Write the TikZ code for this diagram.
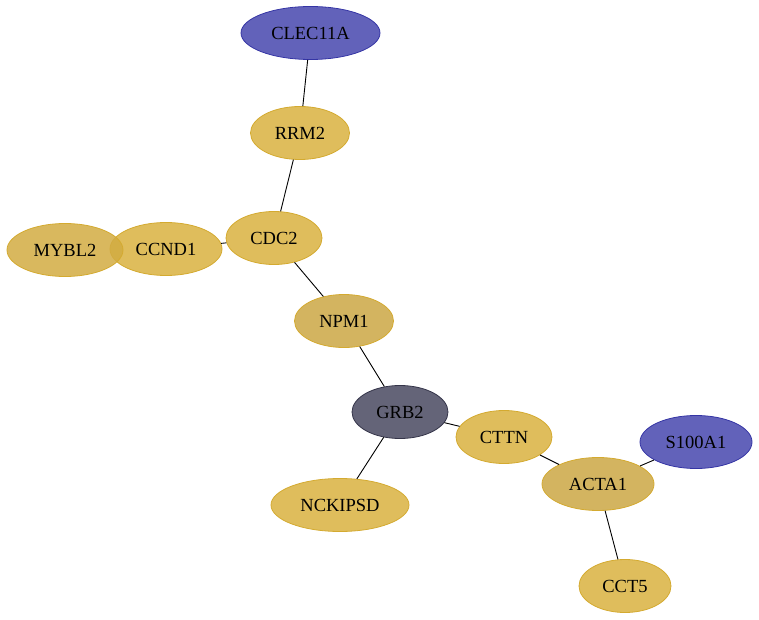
\documentclass[tikz,border=0pt]{standalone}
\usepackage{fontspec}
\setmainfont{Liberation Serif}
\usetikzlibrary{shapes.geometric}
\definecolor{yfill}{HTML}{D9B240}
\definecolor{ydark}{HTML}{D2AC42}
\definecolor{ymid}{HTML}{CBA744}
\definecolor{yline}{HTML}{D4AA30}
\definecolor{bfill}{HTML}{4747AE}
\definecolor{bline}{HTML}{3535A5}
\definecolor{gfill}{HTML}{494960}
\definecolor{gline}{HTML}{35354A}
\tikzset{
  gene/.style={ellipse, inner sep=0pt, minimum height=53pt, font=\fontsize{18.5}{21}\selectfont, line width=0.8pt, fill opacity=0.85, text opacity=1},
  ygene/.style={gene, draw=yline, fill=yfill},
  bgene/.style={gene, draw=bline, fill=bfill},
  ggene/.style={gene, draw=gline, fill=gfill},
  link/.style={draw=black, line width=0.9pt}
}
\begin{document}
\begin{tikzpicture}[x=1pt,y=-1pt]
\useasboundingbox (0,0) rectangle (759,620);
\node[bgene, minimum width=139pt] (clec) at (310.5,33) {CLEC11A};
\node[ygene, minimum width=99pt] (rrm2) at (300,133) {RRM2};
\node[ygene, minimum width=96pt] (cdc2) at (274,238) {CDC2};
\node[ygene, minimum width=112pt] (ccnd1) at (166,249) {CCND1};
\node[ygene, fill=ydark, minimum width=116pt] (mybl2) at (65,250) {MYBL2};
\node[ygene, fill=ymid, minimum width=99pt] (npm1) at (344,321) {NPM1};
\node[ggene, minimum width=96pt] (grb2) at (400,412) {GRB2};
\node[ygene, minimum width=96pt] (cttn) at (504,437) {CTTN};
\node[ygene, minimum width=138pt] (nck) at (340,505) {NCKIPSD};
\node[ygene, fill=ymid, minimum width=112pt] (acta1) at (598,484) {ACTA1};
\node[bgene, minimum width=112pt] (s100) at (696,442) {S100A1};
\node[ygene, minimum width=92pt] (cct5) at (625,586) {CCT5};
\draw[link] (clec) -- (rrm2);
\draw[link] (rrm2) -- (cdc2);
\draw[link] (cdc2) -- (ccnd1);
\draw[link] (cdc2) -- (npm1);
\draw[link] (npm1) -- (grb2);
\draw[link] (grb2) -- (cttn);
\draw[link] (grb2) -- (nck);
\draw[link] (cttn) -- (acta1);
\draw[link] (acta1) -- (s100);
\draw[link] (acta1) -- (cct5);
\end{tikzpicture}
\end{document}
